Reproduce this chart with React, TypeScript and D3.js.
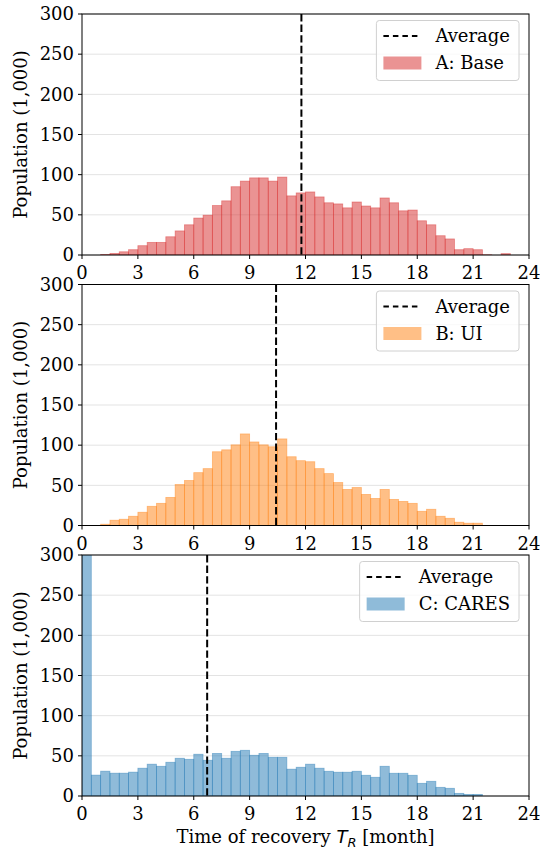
import React from "react";
import * as d3 from "d3";

const binStarts: number[] = d3.range(0, 24, 0.5);
const binWidth = 0.5;

const seriesA: number[] = [0, 0, 0.5, 2, 4, 6.6, 11.6, 15.7, 15.7, 22.7, 30, 37.6, 46, 49.6, 61.6, 67.4, 85, 92, 96, 96, 92, 97, 73.6, 77.3, 78.5, 72.3, 65, 63.6, 58.7, 66, 61, 58.7, 71, 65, 55, 56, 42.6, 37.6, 24, 20, 6.6, 7.9, 6.6, 0.3, 0, 1.7, 0, 0];
const seriesB: number[] = [0, 0, 1.6, 6.6, 7.8, 11.5, 16.5, 23.9, 27.6, 35, 51, 56, 65.8, 70.8, 91.8, 94.2, 100.4, 114, 104, 100.4, 98, 107.8, 85.6, 80.7, 79.4, 70.8, 64.6, 53.5, 44.9, 47.3, 38.7, 33.7, 44.9, 32.5, 30, 27.6, 17.7, 20.2, 11.5, 9, 4.1, 2.9, 2.9, 0, 0, 0, 0, 0];
const seriesC: number[] = [420, 26, 30.9, 28.4, 28.4, 29.7, 34.6, 39.6, 37, 42, 47, 45.7, 52, 44.5, 53, 47, 55.6, 56.9, 50.7, 53, 48.2, 48.2, 33.4, 35.8, 39.6, 34.6, 30.8, 29.6, 29.6, 30.8, 25.8, 23.3, 37, 28.3, 28.3, 25.8, 15.8, 18.3, 10.8, 9.6, 3.3, 2, 2, 0, 0, 0, 0, 0];

const averages: number[] = [11.78, 10.42, 6.72];
const labels: string[] = ["A: Base", "B: UI", "C: CARES"];
const colors: string[] = ["#d62728", "#ff7f0e", "#1f77b4"];
const seriesList: number[][] = [seriesA, seriesB, seriesC];

const xTicks: number[] = d3.range(0, 25, 3);
const yTicks: number[] = d3.range(0, 301, 50);

const FONT = "DejaVu Serif";
const FS = 18;

function measure(text: string): number {
  if (typeof document === "undefined") return text.length * 10;
  const c = document.createElement("canvas");
  const ctx = c.getContext("2d");
  if (!ctx) return text.length * 10;
  ctx.font = `${FS}px "${FONT}"`;
  return ctx.measureText(text).width;
}

const left = 82;
const right = 529;
const panelTops = [14, 284.5, 555];
const panelH = 241;

function Panel({ idx }: { idx: number }) {
  const top = panelTops[idx];
  const bottom = top + panelH;
  const x = d3.scaleLinear().domain([0, 24]).range([left, right]);
  const y = d3.scaleLinear().domain([0, 300]).range([bottom, top]);
  const data = seriesList[idx];
  const color = colors[idx];
  const clipId = `clip${idx}`;
  const avg = averages[idx];

  const textW = Math.max(measure("Average"), measure(labels[idx]));
  const boxRight = 519;
  const boxW = 7 + 38 + 14 + textW + 9;
  const boxLeft = boxRight - boxW;
  const boxTop = top + 6.5;
  const boxH = 60;
  const row1 = boxTop + 15.5;
  const row2 = boxTop + 42.5;
  const hx = boxLeft + 7;

  return (
    <g>
      <defs>
        <clipPath id={clipId}>
          <rect x={left} y={top} width={right - left} height={panelH} />
        </clipPath>
      </defs>
      {yTicks.map((t) => (
        <line key={`g${t}`} x1={left} x2={right} y1={y(t)} y2={y(t)} stroke="#e3e3e3" strokeWidth={1} />
      ))}
      <g clipPath={`url(#${clipId})`}>
        {data.map((v, i) =>
          v > 0 ? (
            <rect
              key={i}
              x={x(binStarts[i])}
              y={y(v)}
              width={x(binStarts[i] + binWidth) - x(binStarts[i])}
              height={y(0) - y(v)}
              fill={color}
              fillOpacity={0.5}
              stroke={color}
              strokeOpacity={0.45}
              strokeWidth={0.8}
            />
          ) : null
        )}
        <line x1={x(avg)} x2={x(avg)} y1={top} y2={bottom} stroke="#000" strokeWidth={2} strokeDasharray="7.4,3.2" />
      </g>
      <rect x={left} y={top} width={right - left} height={panelH} fill="none" stroke="#000" strokeWidth={1} />
      {xTicks.map((t) => (
        <g key={`x${t}`}>
          <line x1={x(t)} x2={x(t)} y1={bottom} y2={bottom + 4} stroke="#000" strokeWidth={1} />
          <text x={x(t)} y={bottom + 24} textAnchor="middle" fontFamily={FONT} fontSize={FS} fill="#000">
            {t}
          </text>
        </g>
      ))}
      {yTicks.map((t) => (
        <g key={`y${t}`}>
          <line x1={left - 4} x2={left} y1={y(t)} y2={y(t)} stroke="#000" strokeWidth={1} />
          <text x={left - 8} y={y(t)} dy="0.35em" textAnchor="end" fontFamily={FONT} fontSize={FS} fill="#000">
            {t}
          </text>
        </g>
      ))}
      <text
        transform={`translate(27,${(top + bottom) / 2}) rotate(-90)`}
        textAnchor="middle"
        fontFamily={FONT}
        fontSize={FS}
        fill="#000"
      >
        Population (1,000)
      </text>
      <rect x={boxLeft} y={boxTop} width={boxW} height={boxH} rx={3} ry={3} fill="#fff" fillOpacity={0.8} stroke="#d0d0d0" strokeWidth={1} />
      <line x1={hx} x2={hx + 38} y1={row1} y2={row1} stroke="#000" strokeWidth={2} strokeDasharray="5.5,4" />
      <text x={hx + 52} y={row1} dy="0.35em" fontFamily={FONT} fontSize={FS} fill="#000">
        Average
      </text>
      <rect x={hx} y={row2 - 6.5} width={38} height={13} fill={color} fillOpacity={0.5} />
      <text x={hx + 52} y={row2} dy="0.35em" fontFamily={FONT} fontSize={FS} fill="#000">
        {labels[idx]}
      </text>
    </g>
  );
}

export default function App() {
  return (
    <svg
      width={540}
      height={853}
      style={{ position: "absolute", left: 0, top: 0, background: "#fff" }}
      xmlns="http://www.w3.org/2000/svg"
    >
      <rect x={0} y={0} width={540} height={853} fill="#fff" />
      {[0, 1, 2].map((i) => (
        <Panel key={i} idx={i} />
      ))}
      <text x={(left + right) / 2} y={843} textAnchor="middle" fontFamily={FONT} fontSize={FS} fill="#000">
        Time of recovery <tspan fontFamily="DejaVu Sans" fontStyle="italic">T</tspan>
        <tspan fontFamily="DejaVu Sans" fontStyle="italic" fontSize={13} dy={4}>R</tspan>
        <tspan dy={-4}> [month]</tspan>
      </text>
    </svg>
  );
}
